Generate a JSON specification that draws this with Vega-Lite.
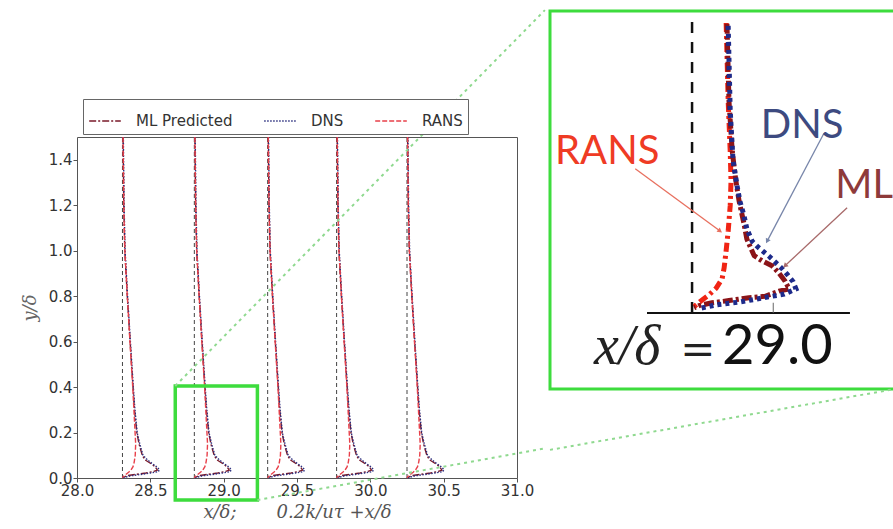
{
  "$schema": "https://vega.github.io/schema/vega-lite/v6.json",
  "padding": {"left": 20, "top": 8, "right": 0, "bottom": 0},
  "background": "white",
  "spacing": 0,
  "config": {"view": {"stroke": null}, "font": "DejaVu Sans"},
  "resolve": {"scale": {"color": "independent", "strokeDash": "independent"}},
  "datasets": {
    "profiles": [
      {"p":1,"s":"ML Predicted","x":28.314,"y":1.5},{"p":1,"s":"ML Predicted","x":28.319,"y":1.2},{"p":1,"s":"ML Predicted","x":28.326,"y":1.0},{"p":1,"s":"ML Predicted","x":28.343,"y":0.8},{"p":1,"s":"ML Predicted","x":28.362,"y":0.6},{"p":1,"s":"ML Predicted","x":28.382,"y":0.4},{"p":1,"s":"ML Predicted","x":28.392,"y":0.3},{"p":1,"s":"ML Predicted","x":28.408,"y":0.2},{"p":1,"s":"ML Predicted","x":28.423,"y":0.15},{"p":1,"s":"ML Predicted","x":28.445,"y":0.1},{"p":1,"s":"ML Predicted","x":28.463,"y":0.08},{"p":1,"s":"ML Predicted","x":28.5,"y":0.065},{"p":1,"s":"ML Predicted","x":28.532,"y":0.05},{"p":1,"s":"ML Predicted","x":28.548,"y":0.035},{"p":1,"s":"ML Predicted","x":28.524,"y":0.029},{"p":1,"s":"ML Predicted","x":28.47,"y":0.022},{"p":1,"s":"ML Predicted","x":28.4,"y":0.016},{"p":1,"s":"ML Predicted","x":28.34,"y":0.01},{"p":1,"s":"ML Predicted","x":28.31,"y":0},
      {"p":2,"s":"ML Predicted","x":28.804,"y":1.5},{"p":2,"s":"ML Predicted","x":28.809,"y":1.2},{"p":2,"s":"ML Predicted","x":28.816,"y":1.0},{"p":2,"s":"ML Predicted","x":28.833,"y":0.8},{"p":2,"s":"ML Predicted","x":28.852,"y":0.6},{"p":2,"s":"ML Predicted","x":28.872,"y":0.4},{"p":2,"s":"ML Predicted","x":28.882,"y":0.3},{"p":2,"s":"ML Predicted","x":28.898,"y":0.2},{"p":2,"s":"ML Predicted","x":28.913,"y":0.15},{"p":2,"s":"ML Predicted","x":28.935,"y":0.1},{"p":2,"s":"ML Predicted","x":28.953,"y":0.08},{"p":2,"s":"ML Predicted","x":28.99,"y":0.065},{"p":2,"s":"ML Predicted","x":29.022,"y":0.05},{"p":2,"s":"ML Predicted","x":29.038,"y":0.035},{"p":2,"s":"ML Predicted","x":29.014,"y":0.029},{"p":2,"s":"ML Predicted","x":28.96,"y":0.022},{"p":2,"s":"ML Predicted","x":28.89,"y":0.016},{"p":2,"s":"ML Predicted","x":28.83,"y":0.01},{"p":2,"s":"ML Predicted","x":28.8,"y":0},
      {"p":3,"s":"ML Predicted","x":29.304,"y":1.5},{"p":3,"s":"ML Predicted","x":29.309,"y":1.2},{"p":3,"s":"ML Predicted","x":29.316,"y":1.0},{"p":3,"s":"ML Predicted","x":29.333,"y":0.8},{"p":3,"s":"ML Predicted","x":29.352,"y":0.6},{"p":3,"s":"ML Predicted","x":29.372,"y":0.4},{"p":3,"s":"ML Predicted","x":29.382,"y":0.3},{"p":3,"s":"ML Predicted","x":29.398,"y":0.2},{"p":3,"s":"ML Predicted","x":29.413,"y":0.15},{"p":3,"s":"ML Predicted","x":29.435,"y":0.1},{"p":3,"s":"ML Predicted","x":29.453,"y":0.08},{"p":3,"s":"ML Predicted","x":29.49,"y":0.065},{"p":3,"s":"ML Predicted","x":29.522,"y":0.05},{"p":3,"s":"ML Predicted","x":29.538,"y":0.035},{"p":3,"s":"ML Predicted","x":29.514,"y":0.029},{"p":3,"s":"ML Predicted","x":29.46,"y":0.022},{"p":3,"s":"ML Predicted","x":29.39,"y":0.016},{"p":3,"s":"ML Predicted","x":29.33,"y":0.01},{"p":3,"s":"ML Predicted","x":29.3,"y":0},
      {"p":4,"s":"ML Predicted","x":29.774,"y":1.5},{"p":4,"s":"ML Predicted","x":29.779,"y":1.2},{"p":4,"s":"ML Predicted","x":29.786,"y":1.0},{"p":4,"s":"ML Predicted","x":29.803,"y":0.8},{"p":4,"s":"ML Predicted","x":29.822,"y":0.6},{"p":4,"s":"ML Predicted","x":29.842,"y":0.4},{"p":4,"s":"ML Predicted","x":29.852,"y":0.3},{"p":4,"s":"ML Predicted","x":29.868,"y":0.2},{"p":4,"s":"ML Predicted","x":29.883,"y":0.15},{"p":4,"s":"ML Predicted","x":29.905,"y":0.1},{"p":4,"s":"ML Predicted","x":29.923,"y":0.08},{"p":4,"s":"ML Predicted","x":29.96,"y":0.065},{"p":4,"s":"ML Predicted","x":29.992,"y":0.05},{"p":4,"s":"ML Predicted","x":30.008,"y":0.035},{"p":4,"s":"ML Predicted","x":29.984,"y":0.029},{"p":4,"s":"ML Predicted","x":29.93,"y":0.022},{"p":4,"s":"ML Predicted","x":29.86,"y":0.016},{"p":4,"s":"ML Predicted","x":29.8,"y":0.01},{"p":4,"s":"ML Predicted","x":29.77,"y":0},
      {"p":5,"s":"ML Predicted","x":30.254,"y":1.5},{"p":5,"s":"ML Predicted","x":30.259,"y":1.2},{"p":5,"s":"ML Predicted","x":30.266,"y":1.0},{"p":5,"s":"ML Predicted","x":30.283,"y":0.8},{"p":5,"s":"ML Predicted","x":30.302,"y":0.6},{"p":5,"s":"ML Predicted","x":30.322,"y":0.4},{"p":5,"s":"ML Predicted","x":30.332,"y":0.3},{"p":5,"s":"ML Predicted","x":30.348,"y":0.2},{"p":5,"s":"ML Predicted","x":30.363,"y":0.15},{"p":5,"s":"ML Predicted","x":30.385,"y":0.1},{"p":5,"s":"ML Predicted","x":30.403,"y":0.08},{"p":5,"s":"ML Predicted","x":30.44,"y":0.065},{"p":5,"s":"ML Predicted","x":30.472,"y":0.05},{"p":5,"s":"ML Predicted","x":30.488,"y":0.035},{"p":5,"s":"ML Predicted","x":30.464,"y":0.029},{"p":5,"s":"ML Predicted","x":30.41,"y":0.022},{"p":5,"s":"ML Predicted","x":30.34,"y":0.016},{"p":5,"s":"ML Predicted","x":30.28,"y":0.01},{"p":5,"s":"ML Predicted","x":30.25,"y":0},

      {"p":1,"s":"DNS","x":28.316,"y":1.5},{"p":1,"s":"DNS","x":28.321,"y":1.2},{"p":1,"s":"DNS","x":28.328,"y":1.0},{"p":1,"s":"DNS","x":28.345,"y":0.8},{"p":1,"s":"DNS","x":28.364,"y":0.6},{"p":1,"s":"DNS","x":28.384,"y":0.4},{"p":1,"s":"DNS","x":28.395,"y":0.3},{"p":1,"s":"DNS","x":28.41,"y":0.2},{"p":1,"s":"DNS","x":28.428,"y":0.15},{"p":1,"s":"DNS","x":28.45,"y":0.1},{"p":1,"s":"DNS","x":28.48,"y":0.08},{"p":1,"s":"DNS","x":28.51,"y":0.065},{"p":1,"s":"DNS","x":28.542,"y":0.05},{"p":1,"s":"DNS","x":28.562,"y":0.038},{"p":1,"s":"DNS","x":28.555,"y":0.028},{"p":1,"s":"DNS","x":28.5,"y":0.022},{"p":1,"s":"DNS","x":28.428,"y":0.015},{"p":1,"s":"DNS","x":28.36,"y":0.009},{"p":1,"s":"DNS","x":28.31,"y":0},
      {"p":2,"s":"DNS","x":28.806,"y":1.5},{"p":2,"s":"DNS","x":28.811,"y":1.2},{"p":2,"s":"DNS","x":28.818,"y":1.0},{"p":2,"s":"DNS","x":28.835,"y":0.8},{"p":2,"s":"DNS","x":28.854,"y":0.6},{"p":2,"s":"DNS","x":28.874,"y":0.4},{"p":2,"s":"DNS","x":28.885,"y":0.3},{"p":2,"s":"DNS","x":28.9,"y":0.2},{"p":2,"s":"DNS","x":28.918,"y":0.15},{"p":2,"s":"DNS","x":28.94,"y":0.1},{"p":2,"s":"DNS","x":28.97,"y":0.08},{"p":2,"s":"DNS","x":29.0,"y":0.065},{"p":2,"s":"DNS","x":29.032,"y":0.05},{"p":2,"s":"DNS","x":29.052,"y":0.038},{"p":2,"s":"DNS","x":29.045,"y":0.028},{"p":2,"s":"DNS","x":28.99,"y":0.022},{"p":2,"s":"DNS","x":28.918,"y":0.015},{"p":2,"s":"DNS","x":28.85,"y":0.009},{"p":2,"s":"DNS","x":28.8,"y":0},
      {"p":3,"s":"DNS","x":29.306,"y":1.5},{"p":3,"s":"DNS","x":29.311,"y":1.2},{"p":3,"s":"DNS","x":29.318,"y":1.0},{"p":3,"s":"DNS","x":29.335,"y":0.8},{"p":3,"s":"DNS","x":29.354,"y":0.6},{"p":3,"s":"DNS","x":29.374,"y":0.4},{"p":3,"s":"DNS","x":29.385,"y":0.3},{"p":3,"s":"DNS","x":29.4,"y":0.2},{"p":3,"s":"DNS","x":29.418,"y":0.15},{"p":3,"s":"DNS","x":29.44,"y":0.1},{"p":3,"s":"DNS","x":29.47,"y":0.08},{"p":3,"s":"DNS","x":29.5,"y":0.065},{"p":3,"s":"DNS","x":29.532,"y":0.05},{"p":3,"s":"DNS","x":29.552,"y":0.038},{"p":3,"s":"DNS","x":29.545,"y":0.028},{"p":3,"s":"DNS","x":29.49,"y":0.022},{"p":3,"s":"DNS","x":29.418,"y":0.015},{"p":3,"s":"DNS","x":29.35,"y":0.009},{"p":3,"s":"DNS","x":29.3,"y":0},
      {"p":4,"s":"DNS","x":29.776,"y":1.5},{"p":4,"s":"DNS","x":29.781,"y":1.2},{"p":4,"s":"DNS","x":29.788,"y":1.0},{"p":4,"s":"DNS","x":29.805,"y":0.8},{"p":4,"s":"DNS","x":29.824,"y":0.6},{"p":4,"s":"DNS","x":29.844,"y":0.4},{"p":4,"s":"DNS","x":29.855,"y":0.3},{"p":4,"s":"DNS","x":29.87,"y":0.2},{"p":4,"s":"DNS","x":29.888,"y":0.15},{"p":4,"s":"DNS","x":29.91,"y":0.1},{"p":4,"s":"DNS","x":29.94,"y":0.08},{"p":4,"s":"DNS","x":29.97,"y":0.065},{"p":4,"s":"DNS","x":30.002,"y":0.05},{"p":4,"s":"DNS","x":30.022,"y":0.038},{"p":4,"s":"DNS","x":30.015,"y":0.028},{"p":4,"s":"DNS","x":29.96,"y":0.022},{"p":4,"s":"DNS","x":29.888,"y":0.015},{"p":4,"s":"DNS","x":29.82,"y":0.009},{"p":4,"s":"DNS","x":29.77,"y":0},
      {"p":5,"s":"DNS","x":30.256,"y":1.5},{"p":5,"s":"DNS","x":30.261,"y":1.2},{"p":5,"s":"DNS","x":30.268,"y":1.0},{"p":5,"s":"DNS","x":30.285,"y":0.8},{"p":5,"s":"DNS","x":30.304,"y":0.6},{"p":5,"s":"DNS","x":30.324,"y":0.4},{"p":5,"s":"DNS","x":30.335,"y":0.3},{"p":5,"s":"DNS","x":30.35,"y":0.2},{"p":5,"s":"DNS","x":30.368,"y":0.15},{"p":5,"s":"DNS","x":30.39,"y":0.1},{"p":5,"s":"DNS","x":30.42,"y":0.08},{"p":5,"s":"DNS","x":30.45,"y":0.065},{"p":5,"s":"DNS","x":30.482,"y":0.05},{"p":5,"s":"DNS","x":30.502,"y":0.038},{"p":5,"s":"DNS","x":30.495,"y":0.028},{"p":5,"s":"DNS","x":30.44,"y":0.022},{"p":5,"s":"DNS","x":30.368,"y":0.015},{"p":5,"s":"DNS","x":30.3,"y":0.009},{"p":5,"s":"DNS","x":30.25,"y":0},

      {"p":1,"s":"RANS","x":28.314,"y":1.5},{"p":1,"s":"RANS","x":28.319,"y":1.2},{"p":1,"s":"RANS","x":28.326,"y":1.0},{"p":1,"s":"RANS","x":28.343,"y":0.8},{"p":1,"s":"RANS","x":28.361,"y":0.6},{"p":1,"s":"RANS","x":28.38,"y":0.4},{"p":1,"s":"RANS","x":28.388,"y":0.3},{"p":1,"s":"RANS","x":28.396,"y":0.2},{"p":1,"s":"RANS","x":28.4,"y":0.15},{"p":1,"s":"RANS","x":28.397,"y":0.1},{"p":1,"s":"RANS","x":28.39,"y":0.07},{"p":1,"s":"RANS","x":28.382,"y":0.05},{"p":1,"s":"RANS","x":28.368,"y":0.035},{"p":1,"s":"RANS","x":28.352,"y":0.025},{"p":1,"s":"RANS","x":28.332,"y":0.015},{"p":1,"s":"RANS","x":28.316,"y":0.007},{"p":1,"s":"RANS","x":28.31,"y":0},
      {"p":2,"s":"RANS","x":28.804,"y":1.5},{"p":2,"s":"RANS","x":28.809,"y":1.2},{"p":2,"s":"RANS","x":28.816,"y":1.0},{"p":2,"s":"RANS","x":28.833,"y":0.8},{"p":2,"s":"RANS","x":28.851,"y":0.6},{"p":2,"s":"RANS","x":28.87,"y":0.4},{"p":2,"s":"RANS","x":28.878,"y":0.3},{"p":2,"s":"RANS","x":28.886,"y":0.2},{"p":2,"s":"RANS","x":28.89,"y":0.15},{"p":2,"s":"RANS","x":28.887,"y":0.1},{"p":2,"s":"RANS","x":28.88,"y":0.07},{"p":2,"s":"RANS","x":28.872,"y":0.05},{"p":2,"s":"RANS","x":28.858,"y":0.035},{"p":2,"s":"RANS","x":28.842,"y":0.025},{"p":2,"s":"RANS","x":28.822,"y":0.015},{"p":2,"s":"RANS","x":28.806,"y":0.007},{"p":2,"s":"RANS","x":28.8,"y":0},
      {"p":3,"s":"RANS","x":29.304,"y":1.5},{"p":3,"s":"RANS","x":29.309,"y":1.2},{"p":3,"s":"RANS","x":29.316,"y":1.0},{"p":3,"s":"RANS","x":29.333,"y":0.8},{"p":3,"s":"RANS","x":29.351,"y":0.6},{"p":3,"s":"RANS","x":29.37,"y":0.4},{"p":3,"s":"RANS","x":29.378,"y":0.3},{"p":3,"s":"RANS","x":29.386,"y":0.2},{"p":3,"s":"RANS","x":29.39,"y":0.15},{"p":3,"s":"RANS","x":29.387,"y":0.1},{"p":3,"s":"RANS","x":29.38,"y":0.07},{"p":3,"s":"RANS","x":29.372,"y":0.05},{"p":3,"s":"RANS","x":29.358,"y":0.035},{"p":3,"s":"RANS","x":29.342,"y":0.025},{"p":3,"s":"RANS","x":29.322,"y":0.015},{"p":3,"s":"RANS","x":29.306,"y":0.007},{"p":3,"s":"RANS","x":29.3,"y":0},
      {"p":4,"s":"RANS","x":29.774,"y":1.5},{"p":4,"s":"RANS","x":29.779,"y":1.2},{"p":4,"s":"RANS","x":29.786,"y":1.0},{"p":4,"s":"RANS","x":29.803,"y":0.8},{"p":4,"s":"RANS","x":29.821,"y":0.6},{"p":4,"s":"RANS","x":29.84,"y":0.4},{"p":4,"s":"RANS","x":29.848,"y":0.3},{"p":4,"s":"RANS","x":29.856,"y":0.2},{"p":4,"s":"RANS","x":29.86,"y":0.15},{"p":4,"s":"RANS","x":29.857,"y":0.1},{"p":4,"s":"RANS","x":29.85,"y":0.07},{"p":4,"s":"RANS","x":29.842,"y":0.05},{"p":4,"s":"RANS","x":29.828,"y":0.035},{"p":4,"s":"RANS","x":29.812,"y":0.025},{"p":4,"s":"RANS","x":29.792,"y":0.015},{"p":4,"s":"RANS","x":29.776,"y":0.007},{"p":4,"s":"RANS","x":29.77,"y":0},
      {"p":5,"s":"RANS","x":30.254,"y":1.5},{"p":5,"s":"RANS","x":30.259,"y":1.2},{"p":5,"s":"RANS","x":30.266,"y":1.0},{"p":5,"s":"RANS","x":30.283,"y":0.8},{"p":5,"s":"RANS","x":30.301,"y":0.6},{"p":5,"s":"RANS","x":30.32,"y":0.4},{"p":5,"s":"RANS","x":30.328,"y":0.3},{"p":5,"s":"RANS","x":30.336,"y":0.2},{"p":5,"s":"RANS","x":30.34,"y":0.15},{"p":5,"s":"RANS","x":30.337,"y":0.1},{"p":5,"s":"RANS","x":30.33,"y":0.07},{"p":5,"s":"RANS","x":30.322,"y":0.05},{"p":5,"s":"RANS","x":30.308,"y":0.035},{"p":5,"s":"RANS","x":30.292,"y":0.025},{"p":5,"s":"RANS","x":30.272,"y":0.015},{"p":5,"s":"RANS","x":30.256,"y":0.007},{"p":5,"s":"RANS","x":30.25,"y":0}
    ],
    "baselines": [{"x":28.31,"y":0,"y2":1.5},{"x":28.8,"y":0,"y2":1.5},{"x":29.3,"y":0,"y2":1.5},{"x":29.77,"y":0,"y2":1.5},{"x":30.25,"y":0,"y2":1.5}],
    "zoombox": [{"x":28.67,"x2":29.23,"y":-0.097,"y2":0.405}],
    "connectors": [
      {"x":28.67,"y":0.405,"x2":31.19,"y2":2.058},
      {"x":29.23,"y":-0.097,"x2":31.19,"y2":0.13}
    ],
    "inset": [
      {"s":"RANS","x":0.084,"y":0.4},{"s":"RANS","x":0.089,"y":0.292},{"s":"RANS","x":0.094,"y":0.223},{"s":"RANS","x":0.096,"y":0.182},{"s":"RANS","x":0.094,"y":0.148},{"s":"RANS","x":0.089,"y":0.113},{"s":"RANS","x":0.084,"y":0.086},{"s":"RANS","x":0.079,"y":0.062},{"s":"RANS","x":0.074,"y":0.047},{"s":"RANS","x":0.059,"y":0.034},{"s":"RANS","x":0.042,"y":0.025},{"s":"RANS","x":0.025,"y":0.018},{"s":"RANS","x":0.01,"y":0.011},{"s":"RANS","x":0.0,"y":0.006},
      {"s":"ML Predicted","x":0.086,"y":0.399},{"s":"ML Predicted","x":0.091,"y":0.292},{"s":"ML Predicted","x":0.099,"y":0.223},{"s":"ML Predicted","x":0.108,"y":0.182},{"s":"ML Predicted","x":0.116,"y":0.154},{"s":"ML Predicted","x":0.128,"y":0.123},{"s":"ML Predicted","x":0.135,"y":0.102},{"s":"ML Predicted","x":0.153,"y":0.079},{"s":"ML Predicted","x":0.172,"y":0.072},{"s":"ML Predicted","x":0.197,"y":0.065},{"s":"ML Predicted","x":0.214,"y":0.055},{"s":"ML Predicted","x":0.229,"y":0.044},{"s":"ML Predicted","x":0.239,"y":0.033},{"s":"ML Predicted","x":0.214,"y":0.03},{"s":"ML Predicted","x":0.18,"y":0.023},{"s":"ML Predicted","x":0.14,"y":0.021},{"s":"ML Predicted","x":0.091,"y":0.017},{"s":"ML Predicted","x":0.049,"y":0.014},{"s":"ML Predicted","x":0.017,"y":0.01},{"s":"ML Predicted","x":0.005,"y":0.007},
      {"s":"DNS","x":0.089,"y":0.396},{"s":"DNS","x":0.094,"y":0.279},{"s":"DNS","x":0.101,"y":0.21},{"s":"DNS","x":0.111,"y":0.175},{"s":"DNS","x":0.118,"y":0.154},{"s":"DNS","x":0.128,"y":0.134},{"s":"DNS","x":0.135,"y":0.116},{"s":"DNS","x":0.148,"y":0.099},{"s":"DNS","x":0.16,"y":0.092},{"s":"DNS","x":0.177,"y":0.084},{"s":"DNS","x":0.192,"y":0.077},{"s":"DNS","x":0.207,"y":0.069},{"s":"DNS","x":0.222,"y":0.061},{"s":"DNS","x":0.236,"y":0.052},{"s":"DNS","x":0.249,"y":0.043},{"s":"DNS","x":0.256,"y":0.033},{"s":"DNS","x":0.227,"y":0.026},{"s":"DNS","x":0.177,"y":0.021},{"s":"DNS","x":0.118,"y":0.015},{"s":"DNS","x":0.059,"y":0.011},{"s":"DNS","x":0.017,"y":0.006}
    ]
  },
  "hconcat": [
    {
      "spacing": -7,
      "resolve": {"scale": {"color": "independent", "strokeDash": "independent"}},
      "vconcat": [
        {
          "width": 440,
          "height": 1,
          "data": {"values": [{"a": 0}]},
          "mark": {"type": "point", "opacity": 0},
          "encoding": {}
        },
        {
          "width": 440,
          "height": 341,
          "view": {"stroke": "#555", "strokeWidth": 1},
          "encoding": {
            "x": {"field": "x", "type": "quantitative", "scale": {"domain": [28, 31], "nice": false, "zero": false},
              "axis": {"values": [28, 28.5, 29, 29.5, 30, 30.5, 31], "format": ".1f", "grid": false, "domain": false,
                "labelFontSize": 15, "labelColor": "#333", "labelFlush": false, "labelOverlap": false, "labelPadding": 1,
                "tickSize": 4, "tickColor": "#555",
                "title": "x/δ;\u00a0\u00a0\u00a0\u00a0\u00a0\u00a0\u00a00.2k/uτ +x/δ", "titleFont": "DejaVu Serif", "titleFontStyle": "italic", "titleFontWeight": "normal", "titleFontSize": 18, "titleColor": "#555", "titlePadding": 5}},
            "y": {"field": "y", "type": "quantitative", "scale": {"domain": [0, 1.5], "nice": false},
              "axis": {"values": [0, 0.2, 0.4, 0.6, 0.8, 1.0, 1.2, 1.4], "format": ".1f", "grid": false, "domain": false,
                "labelFontSize": 15, "labelColor": "#333", "labelFlush": false, "labelOverlap": false, "labelPadding": 1,
                "tickSize": 4, "tickColor": "#555",
                "title": "y/δ", "titleFont": "DejaVu Serif", "titleFontStyle": "italic", "titleFontWeight": "normal", "titleFontSize": 18, "titleColor": "#666", "titlePadding": 9}}
          },
          "layer": [
            {
              "data": {"name": "baselines"},
              "mark": {"type": "rule", "color": "#444", "strokeDash": [4, 3], "strokeWidth": 1},
              "encoding": {"y2": {"field": "y2"}}
            },
            {
              "data": {"name": "profiles"},
              "mark": {"type": "line", "strokeWidth": 1.4},
              "encoding": {
                "color": {"field": "s", "type": "nominal",
                  "scale": {"domain": ["ML Predicted", "DNS", "RANS"], "range": ["#7a1a2a", "#2c2f7f", "#e8404a"]},
                  "legend": {"title": null, "orient": "none", "legendX": 6, "legendY": -38, "direction": "horizontal", "columns": 3,
                    "symbolType": "stroke", "symbolSize": 1000, "symbolStrokeWidth": 1.5, "labelFontSize": 15, "labelColor": "#333",
                    "labelOffset": 14, "columnPadding": 28, "padding": 5, "strokeColor": "#666", "fillColor": "white"}},
                "strokeDash": {"field": "s", "type": "nominal",
                  "scale": {"domain": ["ML Predicted", "DNS", "RANS"], "range": [[7, 2, 2, 2], [1.5, 1.5], [5, 2]]},
                  "legend": {"title": null, "orient": "none", "legendX": 6, "legendY": -38, "direction": "horizontal", "columns": 3,
                    "symbolType": "stroke", "symbolSize": 1000, "symbolStrokeWidth": 1.5, "labelFontSize": 15, "labelColor": "#333",
                    "labelOffset": 14, "columnPadding": 28, "padding": 5, "strokeColor": "#666", "fillColor": "white"}},
                "detail": {"field": "p", "type": "nominal"},
                "order": {"field": "y", "sort": "descending"}
              }
            },
            {
              "data": {"name": "zoombox"},
              "mark": {"type": "rect", "fillOpacity": 0, "stroke": "#3ddc3d", "strokeWidth": 3.5, "clip": false},
              "encoding": {"x2": {"field": "x2"}, "y2": {"field": "y2"}}
            },
            {
              "data": {"name": "connectors"},
              "mark": {"type": "rule", "color": "#8fd98f", "strokeDash": [3, 4], "strokeWidth": 2, "clip": false},
              "encoding": {"x2": {"field": "x2"}, "y2": {"field": "y2"}}
            }
          ]
        }
      ]
    },
    {
      "width": 345,
      "height": 378,
      "view": {"stroke": "#3ddc3d", "strokeWidth": 3},
      "encoding": {
        "x": {"field": "x", "type": "quantitative", "scale": {"domain": [-0.35, 0.5], "nice": false, "zero": false}, "axis": null},
        "y": {"field": "y", "type": "quantitative", "scale": {"domain": [-0.105, 0.4166], "nice": false, "zero": false}, "axis": null}
      },
      "layer": [
        {
          "data": {"values": [{"x": -0.35, "y": -0.189, "x2": 0.5, "y2": -0.105}]},
          "mark": {"type": "rule", "color": "#8fd98f", "strokeDash": [3, 4], "strokeWidth": 2, "clip": false},
          "encoding": {"x2": {"field": "x2"}, "y2": {"field": "y2"}}
        },
        {
          "data": {"values": [{"x": 0, "y": 0, "y2": 0.403}]},
          "mark": {"type": "rule", "color": "#111", "strokeDash": [11, 9], "strokeWidth": 2.5},
          "encoding": {"y2": {"field": "y2"}}
        },
        {
          "data": {"values": [{"x": -0.111, "x2": 0.389, "y": 0}]},
          "mark": {"type": "rule", "color": "#111", "strokeWidth": 2},
          "encoding": {"x2": {"field": "x2"}}
        },
        {
          "data": {"values": [{"x": 0.2, "y": 0, "y2": 0.014}]},
          "mark": {"type": "rule", "color": "#666", "strokeWidth": 1},
          "encoding": {"y2": {"field": "y2"}}
        },
        {
          "data": {"name": "inset"},
          "mark": {"type": "line", "strokeWidth": 5},
          "encoding": {
            "color": {"field": "s", "type": "nominal", "legend": null,
              "scale": {"domain": ["RANS", "ML Predicted", "DNS"], "range": ["#f02414", "#8b1418", "#1d2a8a"]}},
            "strokeDash": {"field": "s", "type": "nominal", "legend": null,
              "scale": {"domain": ["RANS", "ML Predicted", "DNS"], "range": [[9, 4, 3, 4], [10, 3, 3, 3], [4, 4]]}},
            "order": {"field": "y", "sort": "descending"}
          }
        },
        {
          "data": {"values": [{"x": -0.14, "y": 0.199, "x2": 0.069, "y2": 0.113}]},
          "mark": {"type": "rule", "color": "#e8705f", "strokeWidth": 1.3},
          "encoding": {"x2": {"field": "x2"}, "y2": {"field": "y2"}}
        },
        {
          "data": {"values": [{"x": 0.325, "y": 0.248, "x2": 0.185, "y2": 0.099}]},
          "mark": {"type": "rule", "color": "#7886aa", "strokeWidth": 1.3},
          "encoding": {"x2": {"field": "x2"}, "y2": {"field": "y2"}}
        },
        {
          "data": {"values": [{"x": 0.382, "y": 0.145, "x2": 0.229, "y2": 0.065}]},
          "mark": {"type": "rule", "color": "#a86a6a", "strokeWidth": 1.3},
          "encoding": {"x2": {"field": "x2"}, "y2": {"field": "y2"}}
        },
        {
          "data": {"values": [{"x": 0.069, "y": 0.113}]},
          "mark": {"type": "point", "shape": "triangle-up", "filled": true, "size": 30, "angle": 126, "color": "#e8705f", "opacity": 1}
        },
        {
          "data": {"values": [{"x": 0.185, "y": 0.099}]},
          "mark": {"type": "point", "shape": "triangle-up", "filled": true, "size": 30, "angle": 208, "color": "#7886aa", "opacity": 1}
        },
        {
          "data": {"values": [{"x": 0.229, "y": 0.065}]},
          "mark": {"type": "point", "shape": "triangle-up", "filled": true, "size": 30, "angle": 227, "color": "#a86a6a", "opacity": 1}
        },
        {
          "data": {"values": [{"t": "RANS", "x": -0.209, "y": 0.2055}]},
          "mark": {"type": "text", "font": "Lato", "fontSize": 40, "color": "#ef3b24", "align": "center", "baseline": "alphabetic"},
          "encoding": {"text": {"field": "t"}}
        },
        {
          "data": {"values": [{"t": "DNS", "x": 0.271, "y": 0.241}]},
          "mark": {"type": "text", "font": "Lato", "fontSize": 40, "color": "#3d4a80", "align": "center", "baseline": "alphabetic"},
          "encoding": {"text": {"field": "t"}}
        },
        {
          "data": {"values": [{"t": "ML", "x": 0.424, "y": 0.159}]},
          "mark": {"type": "text", "font": "Lato", "fontSize": 40, "color": "#8e3a3a", "align": "center", "baseline": "alphabetic"},
          "encoding": {"text": {"field": "t"}}
        },
        {
          "data": {"values": [{"t": "x/δ", "x": -0.078, "y": -0.07}]},
          "mark": {"type": "text", "font": "Liberation Serif", "fontStyle": "italic", "fontSize": 56, "color": "#222", "align": "right", "baseline": "alphabetic"},
          "encoding": {"text": {"field": "t"}}
        },
        {
          "data": {"values": [{"t": "=", "x": 0.014, "y": -0.07}]},
          "mark": {"type": "text", "font": "DejaVu Serif", "fontSize": 42, "color": "#222", "align": "center", "baseline": "alphabetic"},
          "encoding": {"text": {"field": "t"}}
        },
        {
          "data": {"values": [{"t": "29.0", "x": 0.074, "y": -0.07}]},
          "mark": {"type": "text", "font": "Lato", "fontSize": 56, "color": "#111", "align": "left", "baseline": "alphabetic"},
          "encoding": {"text": {"field": "t"}}
        }
      ]
    }
  ]
}
